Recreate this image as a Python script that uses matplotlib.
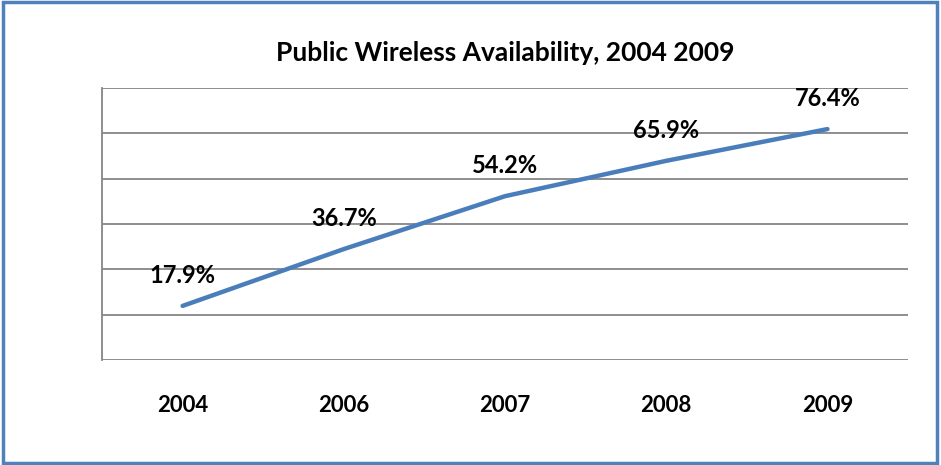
import matplotlib
matplotlib.use('Agg')
import matplotlib.pyplot as plt
from matplotlib.patches import Rectangle

years = ['2004', '2006', '2007', '2008', '2009']
availability = [17.9, 36.7, 54.2, 65.9, 76.4]
y_ticks = [0, 15, 30, 45, 60, 75, 90]

plt.rcParams['font.family'] = ['Lato', 'DejaVu Sans']

fig = plt.figure(figsize=(9.41, 4.65), dpi=100)
ax = fig.add_axes([0.1084, 0.2258, 0.8566, 0.585])

x = list(range(len(years)))
ax.plot(x, availability, color='#4a7ebb', linewidth=3.2, solid_capstyle='round')

for xi, v in zip(x, availability):
    ax.annotate(f'{v}%', (xi, v), xytext=(0, 22), textcoords='offset points',
                ha='center', va='center', fontsize=17, fontweight='bold')

ax.set_xlim(-0.5, len(years) - 0.5)
ax.set_ylim(y_ticks[0], y_ticks[-1])
ax.set_yticks(y_ticks)
ax.set_yticklabels([])
ax.set_xticks(x)
ax.set_xticklabels(years, fontsize=16, fontweight='bold')
ax.tick_params(axis='both', length=0)
ax.tick_params(axis='x', pad=25)
ax.grid(axis='y', color='#868686', linewidth=1.3)
ax.set_axisbelow(True)
for side in ['top', 'right', 'bottom']:
    ax.spines[side].set_visible(False)
ax.spines['left'].set_color('#868686')
ax.spines['left'].set_linewidth(1.3)

fig.text(0.537, 0.885, 'Public Wireless Availability, 2004 2009', ha='center', va='center',
         fontsize=19, fontweight='bold')

fig.patches.append(Rectangle((0.003, 0.005), 0.993, 0.99, transform=fig.transFigure,
                             fill=False, edgecolor='#4f81bd', linewidth=2.5))

fig.savefig('out.png', dpi=100)
